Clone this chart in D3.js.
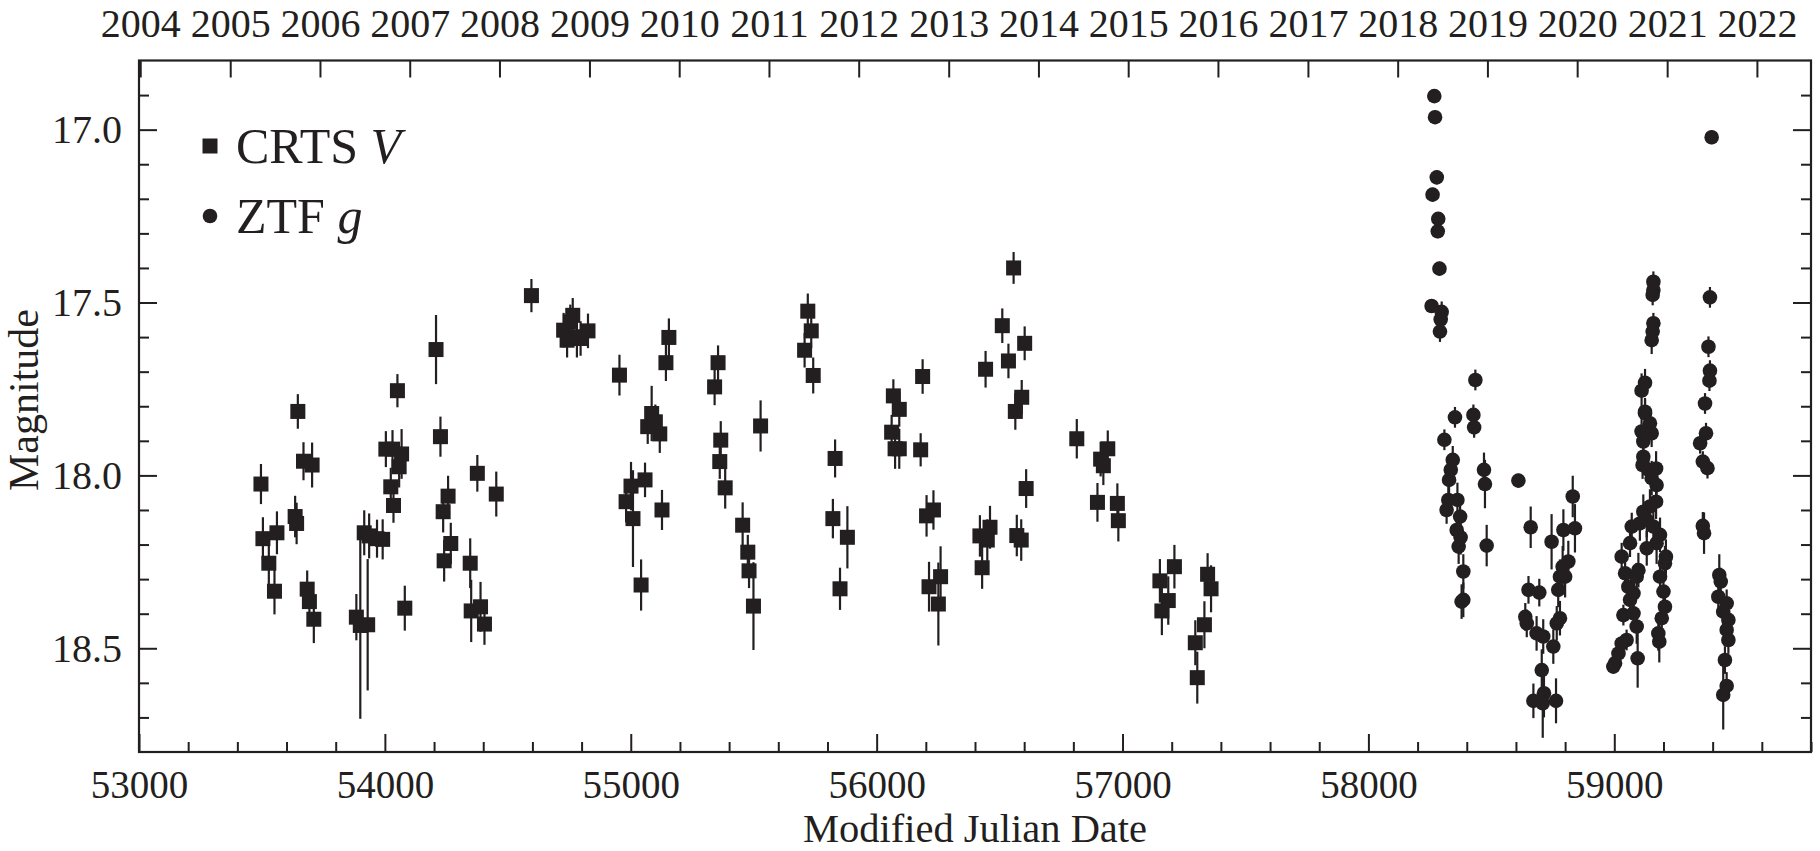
<!DOCTYPE html>
<html><head><meta charset="utf-8">
<script src="https://cdn.jsdelivr.net/npm/d3@7"></script>
<style>
html,body{margin:0;padding:0;background:#fff;}
svg{display:block;}
text{font-family:"Liberation Serif","DejaVu Serif",serif;fill:#231f20;}
</style></head>
<body>
<svg id="chart" width="1820" height="851"></svg>
<script>
// ---- data ----
const crtsMJD = [53496,53504,53561,53528,53551,53646,53669,53704,53635,53641,53684,53693,53711,53884,53900,53930,53916,53936,53991,53968,54081,54051,54004,54031,54068,54058,54024,54035,54208,54226,54257,54237,54268,54241,54376,54453,54347,54351,54389,54405,54596,54727,54764,54741,54781,54754,54796,54826,54954,55155,55143,55085,55069,55118,55100,55001,54981,55009,55058,55127,55042,55355,55341,55366,55362,55384,55528,55455,55476,55481,55499,55720,55734,55707,55742,55831,55822,55881,55851,56068,56092,56061,56075,56092,56187,56179,56203,56231,56213,56260,56251,56557,56511,56602,56443,56536,56590,56564,56608,56420,56461,56450,56429,56570,56588,56814,56940,56911,56922,56898,56979,56983,57152,57211,57186,57160,57346,57360,57333,57296,57304];
const crtsMag = [18.025,18.183,18.166,18.254,18.335,17.815,17.959,17.970,18.119,18.139,18.329,18.365,18.416,18.410,18.434,18.432,18.166,18.175,18.185,18.183,18.384,17.755,17.924,17.924,17.938,17.975,18.033,18.087,17.636,17.888,18.060,18.105,18.197,18.247,17.994,18.054,18.254,18.392,18.380,18.430,17.480,17.580,17.537,17.609,17.599,17.556,17.604,17.582,17.710,17.601,17.674,17.821,17.859,17.880,17.845,18.031,18.076,18.125,18.013,18.100,18.317,17.674,17.744,17.898,17.960,18.036,17.857,18.144,18.222,18.276,18.378,17.525,17.582,17.638,17.711,17.951,18.125,18.179,18.328,17.770,17.809,17.875,17.923,17.923,17.714,17.926,18.117,18.100,18.322,18.293,18.372,17.400,17.567,17.618,17.693,17.669,17.774,17.815,18.038,18.175,18.150,18.187,18.267,18.174,18.187,17.894,17.923,17.953,17.972,18.078,18.081,18.131,18.305,18.264,18.362,18.392,18.286,18.328,18.432,18.484,18.585];
const crtsErr = [0.058,0.062,0.062,0.060,0.067,0.050,0.055,0.065,0.060,0.060,0.054,0.055,0.069,0.067,0.270,0.190,0.065,0.065,0.058,0.055,0.065,0.048,0.052,0.055,0.072,0.060,0.055,0.050,0.100,0.058,0.059,0.060,0.060,0.060,0.053,0.065,0.072,0.090,0.072,0.060,0.048,0.050,0.050,0.050,0.060,0.050,0.050,0.050,0.059,0.055,0.053,0.080,0.050,0.055,0.050,0.070,0.060,0.140,0.050,0.058,0.074,0.050,0.053,0.055,0.050,0.060,0.074,0.066,0.050,0.050,0.127,0.051,0.050,0.050,0.052,0.055,0.057,0.090,0.061,0.048,0.050,0.050,0.058,0.058,0.050,0.048,0.060,0.057,0.072,0.088,0.120,0.046,0.050,0.049,0.053,0.050,0.050,0.053,0.056,0.060,0.062,0.060,0.061,0.060,0.060,0.057,0.053,0.050,0.056,0.056,0.058,0.060,0.063,0.063,0.070,0.070,0.061,0.068,0.068,0.065,0.075];

const ztfMJD = [58268,58271,58278,58261,58284,58282,58289,58257,58298,58294,58291,58435,58352,58427,59396,59159,59159,59156,59159,59156,59152,59389,59383,59389,59387,59369,59125,59111,59125,
58309,58430,58343,58335,58328,58325,58362,58318,58373,58359,58375,58367,58386,58386,58379,58470,58474,58481,
58610,58660,58651,58695,58638,58644,58684,58711,58705,58671,58714,58709,58763,58745,58752,58779,58766,58772,58790,58800,58779,58793,58831,58840,58813,
58996,59003,59017,59030,59050,59037,59030,59044,59057,59064,59078,59091,59064,59071,59098,59091,59095,59078,59125,59145,59111,59152,59118,59118,59115,59139,59170,59152,59172,59170,59145,59118,59132,59104,59159,59186,59172,59132,59206,59186,59200,59206,59193,59179,59183,59210,
59373,59349,59360,59379,59360,59365,59427,59433,59423,59457,59443,59464,59457,59464,59450,59457,59443];
const ztfMag = [16.903,16.964,17.138,17.188,17.258,17.294,17.402,17.510,17.527,17.549,17.584,17.724,17.832,17.825,17.022,17.440,17.464,17.478,17.560,17.584,17.609,17.485,17.628,17.697,17.726,17.792,17.732,17.755,17.816,
17.897,17.861,17.955,17.984,18.013,18.071,18.071,18.100,18.119,18.158,18.179,18.206,18.278,18.360,18.365,17.984,18.025,18.203,
18.015,18.150,18.331,18.339,18.409,18.428,18.457,18.466,18.563,18.652,18.630,18.659,18.652,18.192,18.495,18.413,18.428,18.331,18.264,18.293,18.293,18.158,18.061,18.153,18.249,
18.553,18.543,18.515,18.486,18.476,18.404,18.235,18.283,18.322,18.360,18.341,18.293,18.196,18.148,18.274,18.437,18.529,18.399,17.820,17.849,17.873,17.878,17.902,17.946,17.970,17.984,17.980,18.008,18.028,18.076,18.090,18.105,18.129,18.139,18.148,18.172,18.196,18.211,18.254,18.293,18.336,18.380,18.413,18.457,18.481,18.235,
17.878,17.907,17.960,17.979,18.146,18.167,18.288,18.307,18.351,18.370,18.394,18.418,18.447,18.476,18.534,18.609,18.635];
const ztfErr = [0.02,0.02,0.02,0.02,0.02,0.02,0.02,0.02,0.03,0.03,0.03,0.03,0.03,0.03,0.02,0.03,0.03,0.03,0.03,0.03,0.04,0.03,0.03,0.03,0.03,0.03,0.04,0.05,0.04,
0.03,0.03,0.04,0.04,0.04,0.04,0.05,0.04,0.04,0.05,0.05,0.05,0.05,0.05,0.05,0.05,0.07,0.06,
0.02,0.06,0.04,0.04,0.04,0.04,0.05,0.05,0.06,0.05,0.07,0.10,0.065,0.08,0.05,0.05,0.05,0.05,0.06,0.06,0.05,0.06,0.06,0.07,0.06,
0.02,0.02,0.02,0.02,0.03,0.03,0.04,0.04,0.04,0.04,0.04,0.04,0.04,0.04,0.05,0.05,0.085,0.04,0.04,0.04,0.04,0.04,0.04,0.04,0.04,0.04,0.05,0.05,0.05,0.05,0.05,0.05,0.05,0.05,0.05,0.05,0.06,0.05,0.05,0.05,0.05,0.05,0.05,0.05,0.06,0.05,
0.03,0.03,0.03,0.03,0.04,0.06,0.06,0.04,0.04,0.04,0.04,0.04,0.04,0.04,0.04,0.04,0.10];

const xMajorTicks = [53000,54000,55000,56000,57000,58000,59000];
const yMajorTicks = [17.0,17.5,18.0,18.5];
const yearLabels = [2004,2005,2006,2007,2008,2009,2010,2011,2012,2013,2014,2015,2016,2017,2018,2019,2020,2021,2022];
const legendLabels = [["CRTS ","V"],["ZTF ","g"]];

// ---- layout ----
const W = 1820, H = 851;
const M = {left:139, right:9, top:60.5, bottom:99};
const ink = "#231f20";
const svg = d3.select("#chart");
const x = d3.scaleLinear().domain([53000,59800]).range([M.left, W-M.right]);
const y = d3.scaleLinear().domain([16.8,18.8]).range([M.top, H-M.bottom]);

const mjdOfYear = yr => (Date.UTC(yr,0,1) - Date.UTC(1858,10,17))/86400000;
const xMinor = d3.range(53000,59800+1,200).filter(v => v%1000!==0);
const yMinor = d3.range(16.8,18.8001,0.1).map(v=>+v.toFixed(1)).filter(v=>!yMajorTicks.includes(v) && v>16.8 && v<18.8);

function styleAxis(g){
  g.select(".domain").remove();
  g.selectAll(".tick line").attr("stroke",ink).attr("stroke-width",2);
  g.selectAll(".tick text").attr("fill",ink).style("font-family",'"Liberation Serif","DejaVu Serif",serif');
}
const fs = 40;
// bottom
svg.append("g").attr("transform",`translate(0,${H-M.bottom})`)
  .call(d3.axisBottom(x).tickValues(xMajorTicks).tickFormat(d3.format("d")).tickSize(-18).tickSizeOuter(0).tickPadding(18))
  .call(styleAxis).call(g=>g.selectAll("text").attr("font-size",39));
svg.append("g").attr("transform",`translate(0,${H-M.bottom})`)
  .call(d3.axisBottom(x).tickValues(xMinor).tickFormat("").tickSize(-10).tickSizeOuter(0))
  .call(styleAxis);
// top years
svg.append("g").attr("transform",`translate(0,${M.top})`)
  .call(d3.axisTop(x).tickValues(yearLabels.map(mjdOfYear)).tickFormat((d,i)=>yearLabels[i]).tickSize(-17).tickSizeOuter(0).tickPadding(23.5))
  .call(styleAxis).call(g=>g.selectAll("text").attr("font-size",fs));
// left
svg.append("g").attr("transform",`translate(${M.left},0)`)
  .call(d3.axisLeft(y).tickValues(yMajorTicks).tickFormat(d3.format(".1f")).tickSize(-18).tickSizeOuter(0).tickPadding(17))
  .call(styleAxis).call(g=>g.selectAll("text").attr("font-size",fs));
svg.append("g").attr("transform",`translate(${M.left},0)`)
  .call(d3.axisLeft(y).tickValues(yMinor).tickFormat("").tickSize(-10).tickSizeOuter(0))
  .call(styleAxis);
// right
svg.append("g").attr("transform",`translate(${W-M.right},0)`)
  .call(d3.axisRight(y).tickValues(yMajorTicks).tickFormat("").tickSize(-18).tickSizeOuter(0))
  .call(styleAxis);
svg.append("g").attr("transform",`translate(${W-M.right},0)`)
  .call(d3.axisRight(y).tickValues(yMinor).tickFormat("").tickSize(-10).tickSizeOuter(0))
  .call(styleAxis);
// frame
svg.append("rect").attr("x",M.left).attr("y",M.top).attr("width",W-M.left-M.right).attr("height",H-M.top-M.bottom)
  .attr("fill","none").attr("stroke",ink).attr("stroke-width",2.2);

// axis titles
svg.append("text").attr("x",(M.left+W-M.right)/2).attr("y",842).attr("text-anchor","middle").attr("font-size",40.5).text("Modified Julian Date");
svg.append("text").attr("transform","translate(38,400) rotate(-90)").attr("text-anchor","middle").attr("font-size",42).text("Magnitude");

// data
const crts = crtsMJD.map((d,i)=>({t:d,m:crtsMag[i],e:crtsErr[i]}));
const ztf = ztfMJD.map((d,i)=>({t:d,m:ztfMag[i],e:ztfErr[i]}));
const plot = svg.append("g");
const sq = 15, r = 7.3;
plot.selectAll(".ec").data(crts).join("line")
  .attr("x1",d=>x(d.t)).attr("x2",d=>x(d.t)).attr("y1",d=>y(d.m-d.e)).attr("y2",d=>y(d.m+d.e))
  .attr("stroke",ink).attr("stroke-width",2.2);
plot.selectAll(".sq").data(crts).join("rect")
  .attr("x",d=>x(d.t)-sq/2).attr("y",d=>y(d.m)-sq/2).attr("width",sq).attr("height",sq).attr("fill",ink);
plot.selectAll(".ez").data(ztf).join("line")
  .attr("x1",d=>x(d.t)).attr("x2",d=>x(d.t)).attr("y1",d=>y(d.m-d.e)).attr("y2",d=>y(d.m+d.e))
  .attr("stroke",ink).attr("stroke-width",2.2);
plot.selectAll(".ci").data(ztf).join("circle")
  .attr("cx",d=>x(d.t)).attr("cy",d=>y(d.m)).attr("r",r).attr("fill",ink);

// legend
const lg = svg.append("g");
lg.append("rect").attr("x",210-sq/2).attr("y",146-sq/2).attr("width",sq).attr("height",sq).attr("fill",ink);
lg.append("circle").attr("cx",210).attr("cy",216).attr("r",r).attr("fill",ink);
legendLabels.forEach((lab,i)=>{
  const t = lg.append("text").attr("x",236).attr("y",[163,233][i]).attr("font-size",50);
  t.append("tspan").text(lab[0]);
  t.append("tspan").attr("font-style","italic").text(lab[1]);
});
</script>
</body></html>
